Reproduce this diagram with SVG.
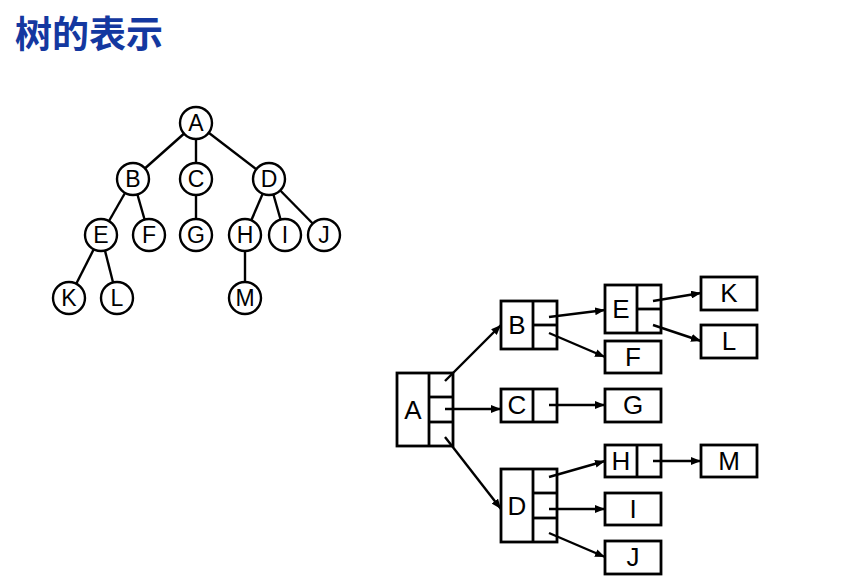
<svg xmlns="http://www.w3.org/2000/svg" width="842" height="582" viewBox="0 0 842 582">
<style>
.t{font-family:"Liberation Sans",Arial,sans-serif;fill:#000;text-anchor:middle;dominant-baseline:central}
.c circle{fill:#fff;stroke:#000;stroke-width:2.4}
.c text{font-size:23px}
.b rect,.b line{fill:#fff;stroke:#000;stroke-width:2.8}
.b text{font-size:26px}
.e line{stroke:#000;stroke-width:2.4}
.a line{stroke:#000;stroke-width:2.4;marker-end:url(#ah)}
</style>
<defs>
<marker id="ah" viewBox="0 0 10 8" refX="10" refY="4" markerWidth="10" markerHeight="8" markerUnits="userSpaceOnUse" orient="auto">
<path d="M0,0 L10,4 L0,8 Z" fill="#000"/>
</marker>
</defs>
<rect width="842" height="582" fill="#fff"/>
<text id="title" x="15" y="48" font-family="'Noto Sans CJK SC','Noto Sans',sans-serif" font-size="37" font-weight="bold" fill="#1438A0">树的表示</text>

<g id="tree-edges" class="e">
<line x1="196" y1="123" x2="133" y2="179"/>
<line x1="196" y1="123" x2="196" y2="179"/>
<line x1="196" y1="123" x2="269" y2="179"/>
<line x1="133" y1="179" x2="101" y2="235"/>
<line x1="133" y1="179" x2="149" y2="235"/>
<line x1="196" y1="179" x2="196" y2="235"/>
<line x1="269" y1="179" x2="245" y2="235"/>
<line x1="269" y1="179" x2="285" y2="235"/>
<line x1="269" y1="179" x2="324" y2="235"/>
<line x1="101" y1="235" x2="69" y2="298"/>
<line x1="101" y1="235" x2="117" y2="298"/>
<line x1="245" y1="235" x2="245" y2="298"/>
</g>
<g class="c">
<g id="tA"><circle cx="196" cy="123" r="16"/><text class="t" x="196" y="123">A</text></g>
<g id="tB"><circle cx="133" cy="179" r="16"/><text class="t" x="133" y="179">B</text></g>
<g id="tC"><circle cx="196" cy="179" r="16"/><text class="t" x="196" y="179">C</text></g>
<g id="tD"><circle cx="269" cy="179" r="16"/><text class="t" x="269" y="179">D</text></g>
<g id="tE"><circle cx="101" cy="235" r="16"/><text class="t" x="101" y="235">E</text></g>
<g id="tF"><circle cx="149" cy="235" r="16"/><text class="t" x="149" y="235">F</text></g>
<g id="tG"><circle cx="196" cy="235" r="16"/><text class="t" x="196" y="235">G</text></g>
<g id="tH"><circle cx="245" cy="235" r="16"/><text class="t" x="245" y="235">H</text></g>
<g id="tI"><circle cx="285" cy="235" r="16"/><text class="t" x="285" y="235">I</text></g>
<g id="tJ"><circle cx="324" cy="235" r="16"/><text class="t" x="324" y="235">J</text></g>
<g id="tK"><circle cx="69" cy="298" r="16"/><text class="t" x="69" y="298">K</text></g>
<g id="tL"><circle cx="117" cy="298" r="16"/><text class="t" x="117" y="298">L</text></g>
<g id="tM"><circle cx="245" cy="298" r="16"/><text class="t" x="245" y="298">M</text></g>
</g>

<g class="b">
<g id="bA"><rect x="397" y="373" width="56" height="73"/><line x1="429" y1="373" x2="429" y2="446"/><line x1="429" y1="397" x2="453" y2="397"/><line x1="429" y1="422" x2="453" y2="422"/><text class="t" x="413" y="410">A</text></g>
<g id="bB"><rect x="501" y="301" width="56" height="48"/><line x1="533" y1="301" x2="533" y2="349"/><line x1="533" y1="325" x2="557" y2="325"/><text class="t" x="517" y="325">B</text></g>
<g id="bC"><rect x="501" y="389" width="56" height="33"/><line x1="533" y1="389" x2="533" y2="422"/><text class="t" x="517" y="405">C</text></g>
<g id="bD"><rect x="501" y="469" width="56" height="73"/><line x1="533" y1="469" x2="533" y2="542"/><line x1="533" y1="493" x2="557" y2="493"/><line x1="533" y1="518" x2="557" y2="518"/><text class="t" x="517" y="506">D</text></g>
<g id="bE"><rect x="605" y="285" width="56" height="48"/><line x1="637" y1="285" x2="637" y2="333"/><line x1="637" y1="309" x2="661" y2="309"/><text class="t" x="621" y="309">E</text></g>
<g id="bF"><rect x="605" y="341" width="56" height="32"/><text class="t" x="633" y="357">F</text></g>
<g id="bG"><rect x="605" y="389" width="56" height="33"/><text class="t" x="633" y="405">G</text></g>
<g id="bH"><rect x="605" y="445" width="56" height="32"/><line x1="637" y1="445" x2="637" y2="477"/><text class="t" x="621" y="461">H</text></g>
<g id="bI"><rect x="605" y="493" width="56" height="32"/><text class="t" x="633" y="509">I</text></g>
<g id="bJ"><rect x="605" y="541" width="56" height="33"/><text class="t" x="633" y="557">J</text></g>
<g id="bK"><rect x="701" y="277" width="56" height="33"/><text class="t" x="729" y="293">K</text></g>
<g id="bL"><rect x="701" y="325" width="56" height="33"/><text class="t" x="729" y="341">L</text></g>
<g id="bM"><rect x="701" y="445" width="56" height="32"/><text class="t" x="729" y="461">M</text></g>
</g>

<g id="connectors" class="a">
<line x1="445" y1="381" x2="501" y2="325"/>
<line x1="445" y1="409" x2="501" y2="409"/>
<line x1="445" y1="437" x2="501" y2="509"/>
<line x1="549" y1="317" x2="605" y2="310"/>
<line x1="549" y1="333" x2="605" y2="357"/>
<line x1="549" y1="405" x2="605" y2="405"/>
<line x1="653" y1="301" x2="701" y2="293"/>
<line x1="653" y1="325" x2="701" y2="341"/>
<line x1="549" y1="477" x2="605" y2="461"/>
<line x1="549" y1="509" x2="605" y2="509"/>
<line x1="549" y1="533" x2="605" y2="557"/>
<line x1="653" y1="461" x2="701" y2="461"/>
</g>
</svg>
